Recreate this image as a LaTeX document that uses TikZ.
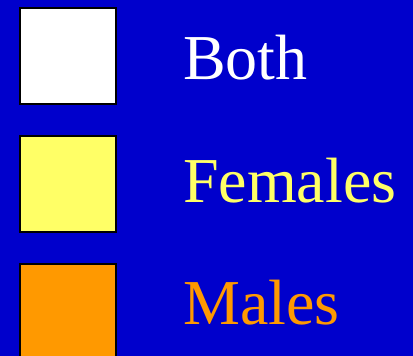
\documentclass[tikz,border=0pt]{standalone}
\usepackage{fontspec}
\setmainfont{Liberation Serif}
\definecolor{bgblue}{HTML}{0000CC}
\definecolor{keyyellow}{HTML}{FFFF66}
\definecolor{keyorange}{HTML}{FF9900}
\begin{document}
\begin{tikzpicture}[x=1pt, y=-1pt, swatch/.style={draw=black, line width=2pt, minimum size=96pt, inner sep=0pt}, lab/.style={anchor=base west, inner sep=0pt, font=\fontsize{64pt}{64pt}\selectfont}]
	\useasboundingbox (0,0) rectangle (413,356);
	\clip (0,0) rectangle (413,356);
	\fill[bgblue] (0,0) rectangle (413,356);
	\node[swatch, fill=white] (both) at (67.5,55.5) {};
	\node[swatch, fill=keyyellow] (fem) at (67.5,183.5) {};
	\node[swatch, fill=keyorange] (mal) at (67.5,311.5) {};
	\node[lab, text=white] (bothlab) at (183,79) {Both};
	\node[lab, text=keyyellow] (femlab) at (183,202) {Females};
	\node[lab, text=keyorange] (mallab) at (183,324) {Males};
\end{tikzpicture}
\end{document}
